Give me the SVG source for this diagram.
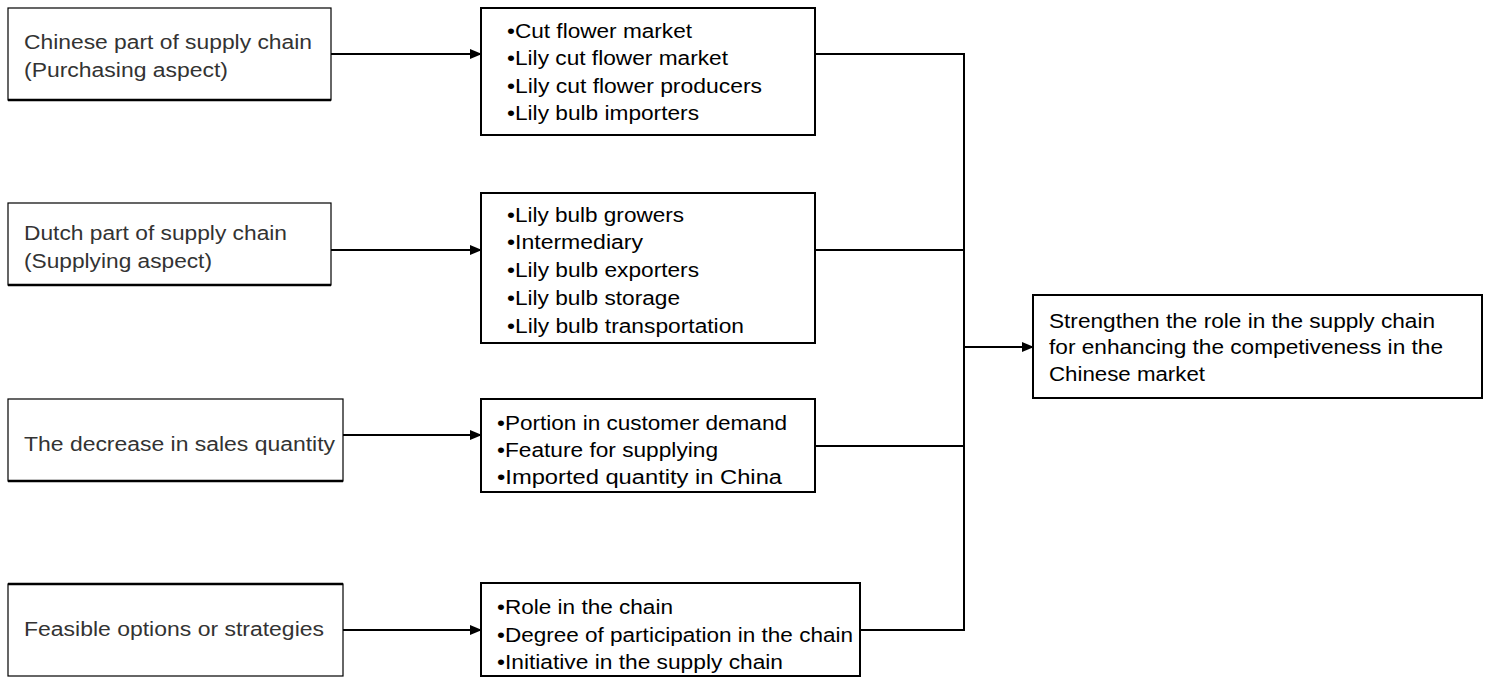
<svg xmlns="http://www.w3.org/2000/svg" width="1488" height="677" viewBox="0 0 1488 677">
<style>
.box{fill:#fff;stroke:#000;stroke-width:2}
.lbox{fill:#fff;stroke:#000;stroke-width:1.2}
.sh{stroke:#000;stroke-width:2.5}
text{font-family:"Liberation Sans",Arimo,Arial,sans-serif;font-size:20px}
.l{fill:#333}
.m{fill:#000}
.c{fill:none;stroke:#000;stroke-width:2}
</style>
<defs>
<marker id="a" markerWidth="12" markerHeight="10" refX="11" refY="5" orient="auto" markerUnits="userSpaceOnUse">
<path d="M0,0 L12,5 L0,10 z" fill="#000"/>
</marker>
</defs>
<rect width="1488" height="677" fill="#fff"/>
<g id="connectors">
<path class="c" d="M331,54 H481" marker-end="url(#a)"/>
<path class="c" d="M331,250 H481" marker-end="url(#a)"/>
<path class="c" d="M343,435 H481" marker-end="url(#a)"/>
<path class="c" d="M343,630 H481" marker-end="url(#a)"/>
<path class="c" d="M815,54 H964 V630 H861"/>
<path class="c" d="M815,250 H964"/>
<path class="c" d="M815,446 H964"/>
<path class="c" d="M964,347 H1033" marker-end="url(#a)"/>
</g>
<g id="n1"><rect class="lbox" x="8" y="8" width="323" height="92"/><path class="sh" d="M8,100 H331"/>
<text class="l" x="24" y="49" textLength="288" lengthAdjust="spacingAndGlyphs">Chinese part of supply chain</text>
<text class="l" x="24" y="77" textLength="204" lengthAdjust="spacingAndGlyphs">(Purchasing aspect)</text></g>
<g id="n2"><rect class="lbox" x="8" y="203" width="323" height="82"/><path class="sh" d="M8,285 H331"/>
<text class="l" x="24" y="240" textLength="263" lengthAdjust="spacingAndGlyphs">Dutch part of supply chain</text>
<text class="l" x="24" y="268" textLength="188" lengthAdjust="spacingAndGlyphs">(Supplying aspect)</text></g>
<g id="n3"><rect class="lbox" x="8" y="399" width="335" height="82"/><path class="sh" d="M8,481 H343"/>
<text class="l" x="24" y="451" textLength="311" lengthAdjust="spacingAndGlyphs">The decrease in sales quantity</text></g>
<g id="n4"><rect class="lbox" x="8" y="584" width="335" height="92"/><path class="sh" d="M8,584 H343"/>
<text class="l" x="24" y="636" textLength="300" lengthAdjust="spacingAndGlyphs">Feasible options or strategies</text></g>
<g id="m1"><rect class="box" x="481" y="8" width="334" height="127"/>
<text class="m" x="507" y="38" textLength="185" lengthAdjust="spacingAndGlyphs">•Cut flower market</text>
<text class="m" x="507" y="65" textLength="221" lengthAdjust="spacingAndGlyphs">•Lily cut flower market</text>
<text class="m" x="507" y="93" textLength="255" lengthAdjust="spacingAndGlyphs">•Lily cut flower producers</text>
<text class="m" x="507" y="120" textLength="192" lengthAdjust="spacingAndGlyphs">•Lily bulb importers</text></g>
<g id="m2"><rect class="box" x="481" y="193" width="334" height="150"/>
<text class="m" x="507" y="222" textLength="177" lengthAdjust="spacingAndGlyphs">•Lily bulb growers</text>
<text class="m" x="507" y="249" textLength="136" lengthAdjust="spacingAndGlyphs">•Intermediary</text>
<text class="m" x="507" y="277" textLength="192" lengthAdjust="spacingAndGlyphs">•Lily bulb exporters</text>
<text class="m" x="507" y="305" textLength="173" lengthAdjust="spacingAndGlyphs">•Lily bulb storage</text>
<text class="m" x="507" y="333" textLength="237" lengthAdjust="spacingAndGlyphs">•Lily bulb transportation</text></g>
<g id="m3"><rect class="box" x="481" y="399" width="334" height="93"/>
<text class="m" x="497" y="430" textLength="290" lengthAdjust="spacingAndGlyphs">•Portion in customer demand</text>
<text class="m" x="497" y="457" textLength="221" lengthAdjust="spacingAndGlyphs">•Feature for supplying</text>
<text class="m" x="497" y="484" textLength="285" lengthAdjust="spacingAndGlyphs">•Imported quantity in China</text></g>
<g id="m4"><rect class="box" x="481" y="583" width="379" height="93"/>
<text class="m" x="497" y="614" textLength="176" lengthAdjust="spacingAndGlyphs">•Role in the chain</text>
<text class="m" x="497" y="642" textLength="356" lengthAdjust="spacingAndGlyphs">•Degree of participation in the chain</text>
<text class="m" x="497" y="669" textLength="286" lengthAdjust="spacingAndGlyphs">•Initiative in the supply chain</text></g>
<g id="r"><rect class="box" x="1033" y="295" width="449" height="103"/>
<text class="m" x="1049" y="328" textLength="386" lengthAdjust="spacingAndGlyphs">Strengthen the role in the supply chain</text>
<text class="m" x="1049" y="354" textLength="394" lengthAdjust="spacingAndGlyphs">for enhancing the competiveness in the</text>
<text class="m" x="1049" y="381" textLength="156" lengthAdjust="spacingAndGlyphs">Chinese market</text></g>
</svg>
